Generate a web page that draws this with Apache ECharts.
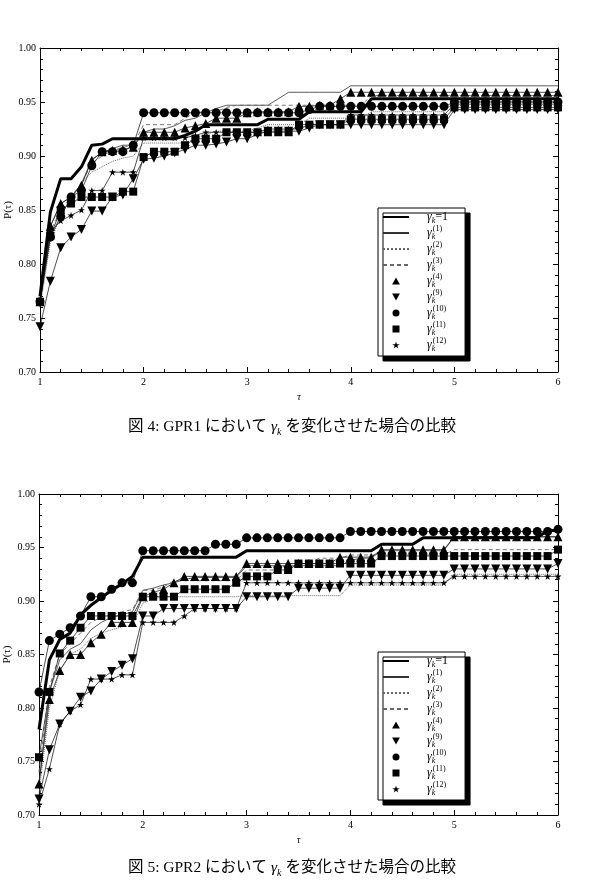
<!DOCTYPE html>
<html>
<head>
<meta charset="utf-8">
<script src="https://cdn.jsdelivr.net/npm/echarts/dist/echarts.min.js"></script>
<style>
  html, body { margin: 0; padding: 0; background: #fff; }
  #chart1 { position: absolute; left: 0; top: 0; width: 592px; height: 441px; }
  #chart2 { position: absolute; left: 0; top: 441px; width: 592px; height: 440px; }
</style>
</head>
<body>
<div id="chart1"></div>
<div id="chart2"></div>
<script>
//--------------------- Data ---------------------------//
// tau grid, one point every 0.1
const tau = [
  1.0, 1.1, 1.2, 1.3, 1.4, 1.5, 1.6, 1.7, 1.8, 1.9,
  2.0, 2.1, 2.2, 2.3, 2.4, 2.5, 2.6, 2.7, 2.8, 2.9,
  3.0, 3.1, 3.2, 3.3, 3.4, 3.5, 3.6, 3.7, 3.8, 3.9,
  4.0, 4.1, 4.2, 4.3, 4.4, 4.5, 4.6, 4.7, 4.8, 4.9,
  5.0, 5.1, 5.2, 5.3, 5.4, 5.5, 5.6, 5.7, 5.8, 5.9, 6.0
];
const xTicks = [1, 2, 3, 4, 5, 6];
const yTicks = [0.70, 0.75, 0.80, 0.85, 0.90, 0.95, 1.00];

// GPR1 (Fig. 4)
const gpr1Base = [
  .770,.848,.879,.879,.890,.910,.911,.916,.916,.916,
  .916,.916,.916,.916,.919,.923,.929,.929,.929,.929,
  .929,.929,.934,.934,.934,.934,.941,.941,.941,.941,
  .941,.941,.953,.953,.953,.953,.953,.953,.953,.953,
  .953,.953,.953,.953,.953,.953,.953,.953,.953,.953,.953];
const gpr1G1 = [
  .765,.835,.856,.862,.874,.897,.903,.907,.910,.910,
  .922,.925,.925,.928,.933,.935,.940,.944,.947,.947,
  .947,.947,.947,.953,.959,.959,.959,.959,.959,.959,
  .965,.965,.965,.965,.965,.965,.965,.965,.965,.965,
  .965,.965,.965,.965,.965,.965,.965,.965,.965,.965,.965];
const gpr1G2 = [
  .760,.820,.845,.860,.875,.885,.890,.895,.898,.900,
  .912,.912,.912,.912,.912,.916,.920,.923,.923,.923,
  .923,.926,.929,.929,.929,.929,.935,.935,.935,.935,
  .935,.935,.941,.941,.941,.941,.941,.941,.941,.941,
  .950,.950,.950,.950,.950,.950,.950,.950,.950,.950,.950];
const gpr1G3 = [
  .770,.830,.850,.862,.875,.893,.900,.905,.908,.910,
  .929,.929,.929,.929,.935,.940,.941,.941,.945,.947,
  .947,.947,.947,.947,.947,.947,.947,.947,.947,.947,
  .947,.947,.956,.956,.956,.956,.956,.956,.956,.956,
  .956,.956,.956,.956,.956,.956,.956,.956,.956,.956,.956];
const gpr1G4 = [
  .765,.835,.856,.862,.873,.896,.904,.905,.906,.908,
  .922,.922,.922,.922,.926,.928,.930,.935,.935,.935,
  .940,.941,.941,.941,.941,.946,.946,.947,.947,.953,
  .959,.959,.959,.959,.959,.959,.959,.959,.959,.959,
  .959,.959,.959,.959,.959,.959,.959,.959,.959,.959,.959];
const gpr1G9 = [
  .742,.784,.815,.825,.832,.849,.849,.862,.864,.879,
  .897,.898,.900,.903,.906,.910,.910,.911,.913,.916,
  .916,.920,.923,.923,.923,.923,.926,.929,.929,.929,
  .929,.929,.929,.929,.929,.929,.929,.929,.929,.929,
  .943,.943,.943,.943,.943,.943,.943,.943,.943,.943,.943];
const gpr1G10 = [
  .765,.825,.844,.862,.868,.891,.904,.904,.904,.910,
  .940,.940,.940,.940,.940,.940,.940,.940,.940,.940,
  .940,.940,.940,.940,.940,.940,.943,.946,.946,.946,
  .946,.946,.946,.946,.946,.946,.946,.946,.946,.946,
  .950,.950,.950,.950,.950,.950,.950,.950,.950,.950,.950];
const gpr1G11 = [
  .765,.826,.850,.856,.862,.862,.862,.862,.867,.867,
  .899,.904,.904,.904,.910,.916,.916,.916,.922,.922,
  .922,.922,.922,.922,.922,.929,.929,.929,.929,.929,
  .934,.934,.934,.934,.934,.934,.934,.934,.934,.934,
  .945,.945,.945,.945,.945,.945,.945,.945,.945,.945,.945];
const gpr1G12 = [
  .765,.830,.840,.845,.850,.868,.868,.885,.885,.885,
  .917,.917,.917,.917,.917,.919,.922,.922,.922,.922,
  .922,.922,.925,.925,.925,.925,.929,.929,.929,.929,
  .938,.938,.938,.938,.938,.938,.938,.938,.938,.938,
  .948,.948,.948,.948,.948,.948,.948,.948,.948,.948,.948];

// GPR2 (Fig. 5)
const gpr2Base = [
  .780,.845,.864,.870,.887,.896,.903,.910,.916,.923,
  .941,.941,.941,.941,.941,.941,.941,.941,.941,.941,
  .947,.947,.947,.947,.947,.947,.947,.947,.947,.947,
  .947,.947,.947,.953,.953,.953,.953,.959,.959,.959,
  .959,.959,.959,.959,.959,.959,.959,.959,.959,.966,.966];
const gpr2G1 = [
  .730,.815,.845,.855,.860,.873,.880,.885,.887,.890,
  .910,.912,.915,.917,.920,.922,.922,.922,.922,.922,
  .933,.933,.933,.933,.933,.933,.933,.933,.933,.933,
  .938,.940,.940,.947,.947,.947,.947,.947,.947,.947,
  .960,.960,.960,.960,.960,.960,.960,.960,.960,.960,.960];
const gpr2G2 = [
  .720,.800,.835,.850,.855,.865,.870,.873,.876,.877,
  .898,.902,.904,.904,.904,.904,.904,.904,.904,.904,
  .905,.905,.905,.905,.905,.905,.905,.905,.905,.905,
  .915,.915,.915,.915,.915,.915,.915,.915,.915,.915,
  .925,.925,.925,.925,.925,.925,.925,.925,.925,.925,.925];
const gpr2G3 = [
  .740,.820,.850,.860,.870,.880,.885,.887,.890,.892,
  .910,.910,.913,.919,.919,.919,.919,.919,.919,.919,
  .929,.929,.929,.929,.935,.935,.935,.940,.940,.940,
  .943,.943,.943,.943,.943,.943,.943,.943,.943,.943,
  .948,.948,.948,.948,.948,.948,.948,.948,.948,.948,.948];
const gpr2G4 = [
  .729,.808,.835,.850,.850,.861,.869,.880,.880,.880,
  .904,.908,.911,.917,.923,.923,.923,.923,.923,.923,
  .935,.935,.935,.935,.935,.935,.935,.935,.935,.941,
  .941,.941,.941,.948,.948,.948,.948,.948,.948,.948,
  .960,.960,.960,.960,.960,.960,.960,.960,.960,.960,.960];
const gpr2G9 = [
  .715,.761,.785,.797,.810,.816,.827,.834,.840,.846,
  .886,.886,.893,.893,.893,.893,.893,.893,.893,.893,
  .904,.904,.904,.904,.904,.912,.912,.912,.912,.912,
  .924,.924,.924,.924,.924,.924,.924,.924,.924,.924,
  .930,.930,.930,.930,.930,.930,.930,.930,.930,.930,.935];
const gpr2G10 = [
  .815,.863,.869,.875,.886,.904,.904,.911,.917,.917,
  .947,.947,.947,.947,.947,.947,.947,.953,.953,.953,
  .959,.959,.959,.959,.959,.959,.959,.959,.959,.959,
  .965,.965,.965,.965,.965,.965,.965,.965,.965,.965,
  .965,.965,.965,.965,.965,.965,.965,.965,.965,.965,.967];
const gpr2G11 = [
  .754,.815,.851,.863,.875,.886,.886,.886,.886,.886,
  .904,.904,.904,.904,.911,.911,.911,.911,.911,.917,
  .923,.923,.923,.929,.929,.935,.935,.935,.935,.935,
  .935,.935,.935,.942,.942,.942,.942,.942,.942,.942,
  .942,.942,.942,.942,.942,.942,.942,.942,.942,.942,.948];
const gpr2G12 = [
  .710,.743,.785,.797,.803,.827,.827,.827,.831,.831,
  .880,.880,.880,.880,.886,.893,.893,.893,.893,.893,
  .917,.917,.917,.917,.917,.917,.917,.917,.917,.917,
  .917,.917,.917,.917,.917,.917,.917,.917,.917,.917,
  .923,.923,.923,.923,.923,.923,.923,.923,.923,.923,.923];

// legend superscripts
const seriesKeys = ['base', 'g1', 'g2', 'g3', 'g4', 'g9', 'g10', 'g11', 'g12'];
const supText = { g1: '(1)', g2: '(2)', g3: '(3)', g4: '(4)', g9: '(9)', g10: '(10)', g11: '(11)', g12: '(12)' };

//--------------------- Styles ---------------------------//
const SERIF = '"Liberation Serif", "DejaVu Serif", serif';
const CAPTION_FONT = '"Liberation Serif", "Noto Sans CJK JP", serif';
const UP = 'path://M5,0 L10,9 L0,9 Z';
const DOWN = 'path://M0,0 L10,0 L5,9 Z';
const SQUARE = 'path://M0,0 L10,0 L10,10 L0,10 Z';
const STAR = 'path://M5,0 L6.2,3.6 L10,3.6 L6.9,5.8 L8.1,9.5 L5,7.2 L1.9,9.5 L3.1,5.8 L0,3.6 L3.8,3.6 Z';

const seriesStyle = {
  base: { line: { width: 3, color: '#000', type: 'solid' } },
  g1: { line: { width: 0.8, color: '#333', type: 'solid' } },
  g2: { line: { width: 1, color: '#666', type: 'dotted' } },
  g3: { line: { width: 0.9, color: '#666', type: [4, 3] } },
  g4: { symbol: UP, size: 9 },
  g9: { symbol: DOWN, size: 9 },
  g10: { symbol: 'circle', size: 9 },
  g11: { symbol: SQUARE, size: 8 },
  g12: { symbol: STAR, size: 7 },
};

//--------------------- Functions ---------------------------//
function makeSeries(key, vals) {
  const st = seriesStyle[key];
  const s = {
    name: key,
    type: 'line',
    data: tau.map((t, i) => [t, vals[i]]),
    animation: false,
    silent: true,
  };
  if (st.line) {
    s.symbol = 'none';
    s.lineStyle = st.line;
    s.itemStyle = { color: st.line.color };
    s.z = key === 'base' ? 4 : 2;
  } else {
    s.symbol = st.symbol;
    s.symbolSize = st.size;
    s.showAllSymbol = true;
    s.lineStyle = { width: 0.8, color: '#222' };
    s.itemStyle = { color: '#000' };
    s.z = 3;
  }
  return s;
}

function legendItem(key) {
  const st = seriesStyle[key];
  if (st.line) return { name: key, itemStyle: { color: 'rgba(0,0,0,0)', borderWidth: 0 } };
  return { name: key, icon: st.symbol };
}

function axisCommon(pos, isMain) {
  return {
    type: 'value',
    position: pos,
    nameMoveOverlap: false,
    axisLine: { show: true, onZero: false, lineStyle: { color: '#000', width: 1 } },
    axisTick: { show: true, inside: true, length: 5, lineStyle: { color: '#000', width: 1 } },
    minorTick: { show: true, splitNumber: 5, length: 3, lineStyle: { color: '#000', width: 1 } },
    splitLine: { show: false },
    minorSplitLine: { show: false },
    axisLabel: { show: isMain, color: '#000', fontFamily: SERIF, fontSize: 10 },
  };
}

function buildOption(cfg) {
  const xA = (pos, isMain) => {
    const a = Object.assign(axisCommon(pos, isMain), {
      min: xTicks[0], max: xTicks[xTicks.length - 1], interval: 1,
      name: isMain ? 'τ' : '', nameLocation: 'middle', nameGap: 20,
      nameTextStyle: { fontFamily: SERIF, fontStyle: 'italic', fontSize: 10, color: '#000' },
    });
    a.axisLabel.margin = 5;
    return a;
  };
  const yA = (pos, isMain) => {
    const a = Object.assign(axisCommon(pos, isMain), {
      min: yTicks[0], max: yTicks[yTicks.length - 1], interval: 0.05,
      name: isMain ? 'P(τ)' : '', nameLocation: 'middle', nameGap: 26,
      nameTextStyle: { fontFamily: SERIF, fontSize: 11, color: '#000' },
    });
    a.axisLabel.margin = 4;
    a.axisLabel.formatter = v => v.toFixed(2);
    return a;
  };
  return {
    animation: false,
    backgroundColor: '#fff',
    title: {
      text: '{a|図 ' + cfg.fig + ': ' + cfg.name + ' において }{g|γ}{k|k}{a| を変化させた場合の比較}',
      left: cfg.capLeft, top: cfg.capTop, padding: 0,
      textStyle: {
        fontWeight: 'normal',
        rich: {
          a: { fontFamily: CAPTION_FONT, fontWeight: 'normal', fontSize: 15.5, color: '#000', lineHeight: 20 },
          g: { fontFamily: SERIF, fontWeight: 'normal', fontStyle: 'italic', fontSize: 15.5, color: '#000', lineHeight: 20 },
          k: { fontFamily: SERIF, fontWeight: 'normal', fontStyle: 'italic', fontSize: 10, color: '#000', lineHeight: 12, verticalAlign: 'bottom' },
        },
      },
    },
    grid: { left: cfg.left, right: 34, top: cfg.top, height: cfg.height, containLabel: false, outerBoundsMode: 'none' },
    legend: {
      orient: 'vertical',
      left: 378, top: cfg.legTop,
      padding: [3, 17, 3, 4],
      itemGap: 0, itemWidth: 26, itemHeight: 7,
      selectedMode: false,
      backgroundColor: '#fff', borderColor: '#000', borderWidth: 1,
      shadowColor: '#000', shadowBlur: 0, shadowOffsetX: 5, shadowOffsetY: 5,
      data: seriesKeys.map(legendItem),
      formatter: name => name === 'base'
        ? '{g|γ}{k|k}{e|=1}'
        : '{g|γ}{kk|k}{s|' + supText[name] + '}',
      textStyle: {
        color: '#000',
        rich: {
          g: { fontFamily: SERIF, fontStyle: 'italic', fontSize: 12, lineHeight: 16, padding: [0, 0, 0, 13], color: '#000' },
          k: { fontFamily: SERIF, fontStyle: 'italic', fontSize: 8, lineHeight: 11, verticalAlign: 'bottom', color: '#000' },
          kk: { fontFamily: SERIF, fontStyle: 'italic', fontSize: 8, lineHeight: 11, verticalAlign: 'bottom', width: 1, color: '#000' },
          e: { fontFamily: SERIF, fontSize: 12, lineHeight: 16, color: '#000' },
          s: { fontFamily: SERIF, fontSize: 8, lineHeight: 9, verticalAlign: 'top', color: '#000' },
        },
      },
    },
    xAxis: [xA('bottom', true), xA('top', false)],
    yAxis: [yA('left', true), yA('right', false)],
    series: seriesKeys.map((k, i) => makeSeries(k, cfg.values[i])),
  };
}

//--------------------- Main ---------------------------//
const chart1 = echarts.init(document.getElementById('chart1'));
chart1.setOption(buildOption({
  fig: 4, name: 'GPR1',
  left: 40, top: 48, height: 324,
  legTop: 208, capLeft: 128, capTop: 417,
  values: [gpr1Base, gpr1G1, gpr1G2, gpr1G3, gpr1G4, gpr1G9, gpr1G10, gpr1G11, gpr1G12],
}));

const chart2 = echarts.init(document.getElementById('chart2'));
chart2.setOption(buildOption({
  fig: 5, name: 'GPR2',
  left: 39, top: 53, height: 321,
  legTop: 211, capLeft: 128, capTop: 417,
  values: [gpr2Base, gpr2G1, gpr2G2, gpr2G3, gpr2G4, gpr2G9, gpr2G10, gpr2G11, gpr2G12],
}));
</script>
</body>
</html>
